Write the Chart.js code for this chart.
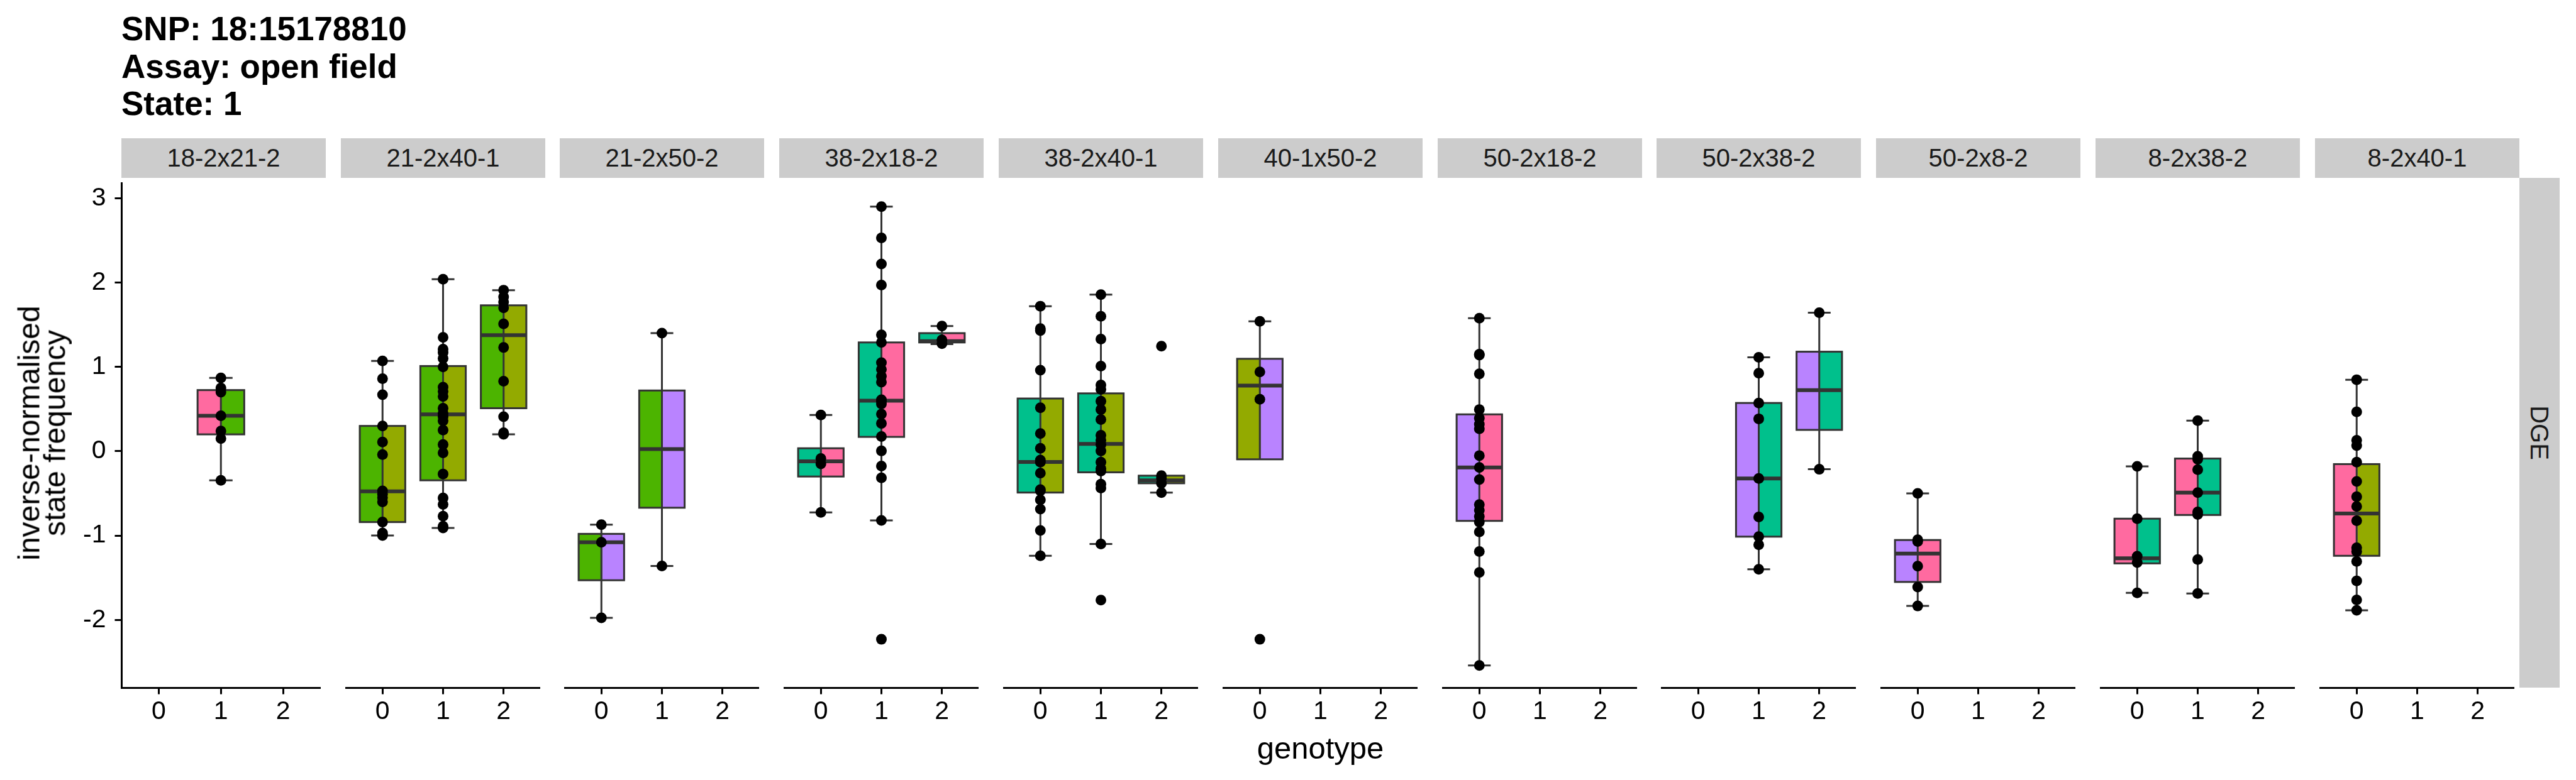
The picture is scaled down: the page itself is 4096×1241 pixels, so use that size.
<!DOCTYPE html>
<html>
<head>
<meta charset="utf-8">
<script src="https://cdn.jsdelivr.net/npm/chart.js@4.4.1/dist/chart.umd.min.js"></script>
<style>
  html, body { margin: 0; padding: 0; background: #fff; width: 4096px; height: 1241px; overflow: hidden;
    font-family: 'Liberation Sans', Arial, Helvetica, sans-serif; }
  .title { position: absolute; left: 193px; top: 16px; font-size: 53px; font-weight: bold; line-height: 59.5px; color: #000; white-space: pre; }
  .strip { position: absolute; background: #cccccc; color: #1a1a1a; font-size: 40px;
    display: flex; align-items: center; justify-content: center; white-space: nowrap; }
  .panel { position: absolute; }
  .ytitle { position: absolute; font-size: 48px; line-height: 41px; text-align: center; color: #000;
    transform: rotate(-90deg); transform-origin: center center; white-space: pre; }
  .xtitle { position: absolute; font-size: 49px; line-height: 58.8px; color: #000; text-align: center; }
</style>
</head>
<body>
<div class="title">SNP: 18:15178810
Assay: open field
State: 1</div>
<div id="root"></div>
<script>
Chart.defaults.font.family = "'Liberation Sans', Arial, Helvetica, sans-serif";
Chart.defaults.color = '#000';

// Facettes (croisements) et niveaux de génotype
const crosses = ['18-2x21-2', '21-2x40-1', '21-2x50-2', '38-2x18-2', '38-2x40-1', '40-1x50-2',
                 '50-2x18-2', '50-2x38-2', '50-2x8-2', '8-2x38-2', '8-2x40-1'];
const genotypes = ['0', '1', '2'];
const yTicks = [-2, -1, 0, 1, 2, 3];
const rowLabel = 'DGE';

// Couleur de chaque souche parentale
const strainColors = {
    '18-2': '#ff6aa0',
    '21-2': '#4cb400',
    '38-2': '#00c08c',
    '40-1': '#93aa00',
    '50-2': '#b983ff',
    '8-2': '#ff6aa0'
};

// Statistiques des boîtes (une entrée par boîte)
const boxPanel  = [0, 1, 1, 1, 2, 2, 3, 3, 3, 4, 4, 4, 5, 6, 7, 7, 8, 9, 9, 10];
const boxGeno   = [1, 0, 1, 2, 0, 1, 0, 1, 2, 0, 1, 2, 0, 0, 1, 2, 0, 0, 1, 0];
const boxQ1     = [0.20, -0.84, -0.345, 0.51, -1.53, -0.67, -0.30, 0.17, 1.29, -0.49, -0.25, -0.38,
                   -0.096, -0.826, -1.013, 0.253, -1.55, -1.33, -0.756, -1.24];
const boxMedian = [0.42, -0.476, 0.437, 1.376, -1.08, 0.026, -0.12, 0.60, 1.305, -0.127, 0.087, -0.345,
                   0.778, -0.192, -0.323, 0.725, -1.214, -1.27, -0.49, -0.738];
const boxQ3     = [0.725, 0.30, 1.01, 1.73, -0.98, 0.72, 0.035, 1.29, 1.40, 0.625, 0.686, -0.29,
                   1.096, 0.437, 0.572, 1.18, -1.053, -0.80, -0.087, -0.153];
const boxLower  = [-0.345, -1.00, -0.91, 0.20, -1.975, -1.36, -0.725, -0.82, 1.27, -1.24, -1.10, -0.49,
                   null, -2.54, -1.40, -0.214, -1.835, -1.68, -1.686, -1.887];
const boxUpper  = [0.87, 1.07, 2.04, 1.91, -0.87, 1.40, 0.43, 2.90, 1.485, 1.72, 1.857, null,
                   1.54, 1.577, 1.114, 1.643, -0.50, -0.18, 0.363, 0.848];

// Points individuels de chaque boîte
const boxPoints = [
    [0.87, 0.75, 0.70, 0.42, 0.24, 0.15, -0.345],
    [1.07, 0.86, 0.67, 0.30, 0.11, -0.04, -0.47, -0.51, -0.55, -0.60, -0.84, -0.97, -0.99, -1.00],
    [2.04, 1.35, 1.21, 1.17, 1.10, 1.00, 0.76, 0.71, 0.65, 0.51, 0.45, 0.41, 0.36, 0.25, 0.08, -0.02,
     -0.27, -0.555, -0.63, -0.77, -0.89, -0.91],
    [1.91, 1.83, 1.77, 1.70, 1.51, 1.23, 0.83, 0.41, 0.22, 0.20],
    [-0.87, -1.08, -1.975],
    [1.40, -1.36],
    [0.43, -0.087, -0.15, -0.725],
    [2.90, 2.53, 2.22, 1.97, 1.38, 1.29, 1.05, 0.97, 0.89, 0.82, 0.61, 0.59, 0.56, 0.44, 0.33, 0.175,
     0.004, -0.175, -0.315, -0.82, -2.23],
    [1.485, 1.32, 1.275],
    [1.72, 1.455, 1.43, 0.96, 0.515, 0.21, 0.035, -0.105, -0.13, -0.26, -0.455, -0.47, -0.577, -0.686,
     -0.94, -1.24],
    [1.857, 1.60, 1.33, 1.01, 0.786, 0.734, 0.594, 0.494, 0.376, 0.19, 0.13, 0.079, 0.004, -0.13,
     -0.205, -0.236, -0.39, -0.437, -1.10, -1.765],
    [1.245, -0.29, -0.32, -0.38, -0.49],
    [1.54, 0.94, 0.616, -2.23],
    [1.577, 1.15, 1.14, 0.917, 0.494, 0.393, 0.319, 0.266, -0.052, -0.192, -0.336, -0.633, -0.70,
     -0.773, -0.84, -0.957, -1.19, -1.437, -2.54],
    [1.114, 0.926, 0.572, 0.384, -0.323, -0.78, -1.013, -1.11, -1.40],
    [1.643, -0.214],
    [-0.50, -1.05, -1.07, -1.363, -1.61, -1.835],
    [-0.18, -0.80, -1.245, -1.32, -1.68],
    [0.363, -0.06, -0.096, -0.218, -0.49, -0.72, -0.75, -1.284, -1.686],
    [0.848, 0.467, 0.13, 0.066, -0.13, -0.358, -0.54, -0.655, -0.825, -1.145, -1.19, -1.306, -1.537,
     -1.764, -1.887]
];

// Mise en page (pixels)
const PANEL_LEFT0 = 192.8, PANEL_STEP = 348.8, PANEL_W = 325;
const PLOT_TOP = 283, PLOT_H = 811, X_AXIS_H = 75, Y_AXIS_W = 120;
const STRIP_TOP = 219.5, STRIP_H = 63.5;
const Y_MIN = -2.803, Y_MAX = 3.178, X_MIN = -0.6, X_MAX = 2.6;
const BOX_W = 0.75;
const LINE_W = 3;
const AXIS_W = 3;

const tickFont = { size: 41, family: "'Liberation Sans', Arial, sans-serif" };

/**
 * Contours des boîtes, moustaches et médianes, dessinés juste avant les points
 */
function boxOutlinePlugin(idx) {
    return {
        id: 'boxOutline',
        beforeDatasetDraw(chart, args) {
            if (args.meta.type !== 'scatter') return;
            const ctx = chart.ctx;
            const xs = chart.scales.x, ys = chart.scales.y;
            ctx.save();
            ctx.strokeStyle = '#333333';
            ctx.lineCap = 'butt';
            idx.forEach(b => {
                const g = boxGeno[b];
                const cx = xs.getPixelForValue(g);
                const half = xs.getPixelForValue(g + BOX_W / 2) - cx;
                const cap = xs.getPixelForValue(g + BOX_W / 4) - cx;
                const y1 = ys.getPixelForValue(boxQ1[b]);
                const y3 = ys.getPixelForValue(boxQ3[b]);
                const ym = ys.getPixelForValue(boxMedian[b]);
                ctx.lineWidth = LINE_W;
                ctx.beginPath();
                if (boxUpper[b] !== null) {
                    const yu = ys.getPixelForValue(boxUpper[b]);
                    ctx.moveTo(cx, y3); ctx.lineTo(cx, yu);
                    ctx.moveTo(cx - cap, yu); ctx.lineTo(cx + cap, yu);
                }
                if (boxLower[b] !== null) {
                    const yl = ys.getPixelForValue(boxLower[b]);
                    ctx.moveTo(cx, y1); ctx.lineTo(cx, yl);
                    ctx.moveTo(cx - cap, yl); ctx.lineTo(cx + cap, yl);
                }
                ctx.moveTo(cx, y3); ctx.lineTo(cx, y1);
                ctx.stroke();
                ctx.strokeRect(cx - half, y3, 2 * half, y1 - y3);
                ctx.lineWidth = LINE_W * 2;
                ctx.beginPath();
                ctx.moveTo(cx - half, ym); ctx.lineTo(cx + half, ym);
                ctx.stroke();
            });
            ctx.restore();
        }
    };
}

function createPanel(i) {
    const root = document.getElementById('root');
    const left = Math.round(PANEL_LEFT0 + i * PANEL_STEP);
    const first = i === 0;

    // bandeau du haut
    const strip = document.createElement('div');
    strip.className = 'strip';
    strip.style.left = left + 'px';
    strip.style.top = STRIP_TOP + 'px';
    strip.style.width = PANEL_W + 'px';
    strip.style.height = STRIP_H + 'px';
    strip.textContent = crosses[i];
    root.appendChild(strip);

    const box = document.createElement('div');
    box.className = 'panel';
    box.style.left = (left - (first ? Y_AXIS_W : 0)) + 'px';
    box.style.top = PLOT_TOP + 'px';
    box.style.width = (PANEL_W + (first ? Y_AXIS_W : 0)) + 'px';
    box.style.height = (PLOT_H + X_AXIS_H) + 'px';
    const canvas = document.createElement('canvas');
    box.appendChild(canvas);
    root.appendChild(box);

    const parents = crosses[i].split('x');
    const leftColor = strainColors[parents[0]];
    const rightColor = strainColors[parents[1]];
    const idx = boxPanel.map((p, b) => p === i ? b : -1).filter(b => b >= 0);

    const points = [];
    idx.forEach(b => boxPoints[b].forEach(v => points.push({ x: boxGeno[b], y: v })));

    const halfPx = PANEL_W / (X_MAX - X_MIN) * BOX_W / 2;

    return new Chart(canvas, {
        type: 'bar',
        data: {
            datasets: [
                {
                    type: 'scatter',
                    data: points,
                    backgroundColor: '#000',
                    borderColor: '#000',
                    borderWidth: 0,
                    pointRadius: 8.5,
                    pointHoverRadius: 8.5,
                    order: 1
                },
                {
                    data: idx.map(b => ({ x: boxGeno[b] - BOX_W / 4, y: [boxQ1[b], boxQ3[b]] })),
                    backgroundColor: leftColor,
                    borderWidth: 0,
                    barThickness: halfPx,
                    grouped: false,
                    order: 2
                },
                {
                    data: idx.map(b => ({ x: boxGeno[b] + BOX_W / 4, y: [boxQ1[b], boxQ3[b]] })),
                    backgroundColor: rightColor,
                    borderWidth: 0,
                    barThickness: halfPx,
                    grouped: false,
                    order: 2
                }
            ]
        },
        options: {
            animation: false,
            responsive: true,
            maintainAspectRatio: false,
            events: [],
            layout: { padding: 0 },
            plugins: {
                legend: { display: false },
                tooltip: { enabled: false },
                title: { display: false }
            },
            scales: {
                x: {
                    type: 'linear',
                    min: X_MIN,
                    max: X_MAX,
                    offset: false,
                    afterBuildTicks: s => { s.ticks = genotypes.map((_, k) => ({ value: k })); },
                    afterFit: s => {
                        s.height = X_AXIS_H;
                        s.paddingLeft = 0; s.paddingRight = 0;
                    },
                    ticks: {
                        callback: v => genotypes[v],
                        font: tickFont,
                        color: '#000',
                        padding: 4,
                        maxRotation: 0,
                        autoSkip: false
                    },
                    grid: {
                        offset: false,
                        drawOnChartArea: false,
                        drawTicks: true,
                        tickLength: 10.5,
                        tickWidth: AXIS_W,
                        tickColor: '#000'
                    },
                    border: { display: true, color: '#000', width: AXIS_W }
                },
                y: {
                    type: 'linear',
                    display: first,
                    min: Y_MIN,
                    max: Y_MAX,
                    afterBuildTicks: s => { s.ticks = yTicks.map(v => ({ value: v })); },
                    afterFit: s => {
                        s.width = first ? Y_AXIS_W : 0;
                        s.paddingTop = 0; s.paddingBottom = 0;
                    },
                    ticks: {
                        font: tickFont,
                        color: '#000',
                        padding: 14
                    },
                    grid: {
                        drawOnChartArea: false,
                        drawTicks: true,
                        tickLength: 10.5,
                        tickWidth: AXIS_W,
                        tickColor: '#000'
                    },
                    border: { display: true, color: '#000', width: AXIS_W }
                }
            }
        },
        plugins: [boxOutlinePlugin(idx)]
    });
}

crosses.forEach((c, i) => createPanel(i));

// bandeau de droite
(function () {
    const root = document.getElementById('root');
    const lastRight = Math.round(PANEL_LEFT0 + (crosses.length - 1) * PANEL_STEP) + PANEL_W;
    const s = document.createElement('div');
    s.className = 'strip';
    s.style.left = lastRight + 'px';
    s.style.top = PLOT_TOP + 'px';
    s.style.width = STRIP_H + 'px';
    s.style.height = PLOT_H + 'px';
    const t = document.createElement('span');
    t.style.display = 'inline-block';
    t.style.transform = 'rotate(90deg)';
    t.textContent = rowLabel;
    s.appendChild(t);
    root.appendChild(s);

    // titres des axes
    const yt = document.createElement('div');
    yt.className = 'ytitle';
    yt.style.width = PLOT_H + 'px';
    yt.style.height = '82px';
    yt.style.left = (66.5 - PLOT_H / 2) + 'px';
    yt.style.top = (PLOT_TOP + PLOT_H / 2 - 41) + 'px';
    yt.textContent = 'inverse-normalised\nstate frequency';
    root.appendChild(yt);

    const xt = document.createElement('div');
    xt.className = 'xtitle';
    const x0 = Math.round(PANEL_LEFT0);
    xt.style.left = x0 + 'px';
    xt.style.width = (lastRight - x0) + 'px';
    xt.style.top = '1160.6px';
    xt.textContent = 'genotype';
    root.appendChild(xt);
})();
</script>
</body>
</html>
